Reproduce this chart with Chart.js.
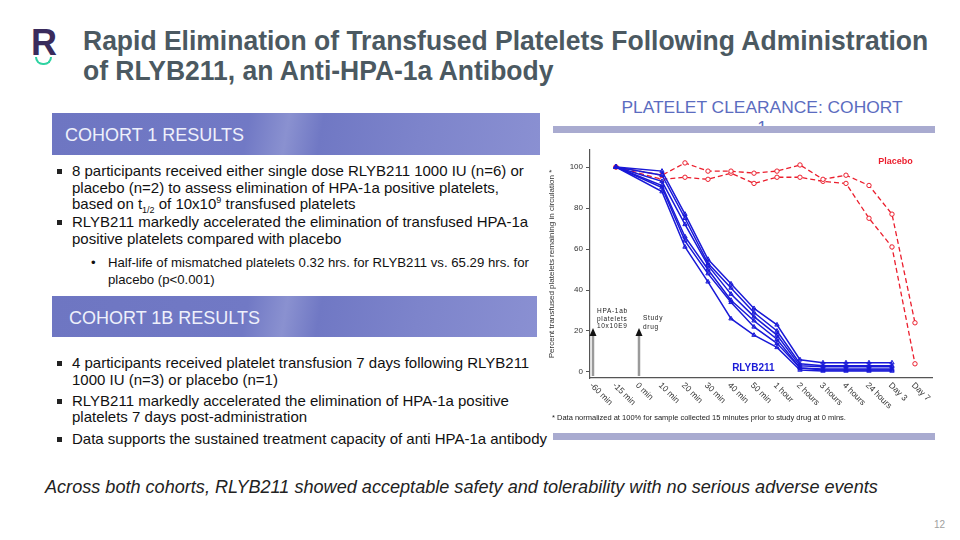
<!DOCTYPE html>
<html>
<head>
<meta charset="utf-8">
<script src="https://cdn.jsdelivr.net/npm/chart.js@4"></script>
<style>
  html, body { margin: 0; padding: 0; background: #fff; }
  #slide { position: relative; width: 960px; height: 540px; overflow: hidden; font-family: "Liberation Sans", Arial, sans-serif; }
  .abs { position: absolute; }
  #logoR { left: 31px; top: 22px; font-size: 36px; font-weight: bold; color: #3a2b5c; }
  #logoSmile { left: 35px; top: 57px; width: 13px; height: 6px; border: 2.5px solid #2fd3a2; border-top: none; border-radius: 0 0 9px 9px; }
  #title { left: 83px; top: 26px; font-weight: bold; font-size: 27px; line-height: 30px; color: #4b5961; white-space: nowrap; transform: scaleX(0.981); transform-origin: left top; }
  .band { background: linear-gradient(100deg, #6e76c2 0%, #7179c5 40%, #8a91d0 48%, #7078c4 55%, #7d84cb 75%, #8a90d2 100%); color: #eef0fb; font-size: 18px; }
  ul { margin: 0; padding: 0; list-style: none; }
  .bl { position: relative; padding-left: 15px; font-size: 15px; line-height: 16.5px; color: #111; }
  .bl::before { content: ""; position: absolute; left: 0; top: 6px; width: 5px; height: 5px; background: #222; }
  .sub { position: relative; padding-left: 51px; font-size: 13.2px; line-height: 17px; color: #111; margin-top: 7px; }
  .sub::before { content: "•"; position: absolute; left: 34px; top: 0; }
  sub, sup { line-height: 0; font-size: 9px; }
  .bar { background: #a9abd0; }
  #chartBox { left: 545px; top: 138px; width: 395px; height: 290px; }
</style>
</head>
<body>
<div id="slide">
  <div class="abs" id="logoR">R</div>
  <div class="abs" id="logoSmile"></div>
  <div class="abs" id="title">Rapid Elimination of Transfused Platelets Following Administration<br>of RLYB211, an Anti-HPA-1a Antibody</div>

  <div class="abs band" style="left:52px; top:113px; width:488px; height:42px;"><div style="position:absolute; left:13px; top:12px;">COHORT 1 RESULTS</div></div>
  <ul class="abs" style="left:57px; top:163px; width:484px;">
    <li class="bl">8 participants received either single dose RLYB211 1000 IU (n=6) or placebo (n=2) to assess elimination of HPA-1a positive platelets, based on t<sub>1/2</sub> of 10x10<sup>9</sup> transfused platelets</li>
    <li class="bl" style="margin-top:1.5px;">RLYB211 markedly accelerated the elimination of transfused HPA-1a positive platelets compared with placebo</li>
    <li class="sub">Half-life of mismatched platelets 0.32 hrs. for RLYB211 vs. 65.29 hrs. for placebo (p&lt;0.001)</li>
  </ul>

  <div class="abs band" style="left:52px; top:296px; width:485px; height:41px;"><div style="position:absolute; left:17px; top:12px;">COHORT 1B RESULTS</div></div>
  <ul class="abs" style="left:57px; top:355px; width:480px;">
    <li class="bl">4 participants received platelet transfusion 7 days following RLYB211 1000 IU (n=3) or placebo (n=1)</li>
    <li class="bl" style="margin-top:4.5px;">RLYB211 markedly accelerated the elimination of HPA-1a positive platelets 7 days post-administration</li>
    <li class="bl" style="margin-top:5.5px; white-space:nowrap;">Data supports the sustained treatment capacity of anti HPA-1a antibody</li>
  </ul>

  <div class="abs" style="left:45px; top:477px; font-size:18.1px; font-style:italic; color:#222; white-space:nowrap;">Across both cohorts, RLYB211 showed acceptable safety and tolerability with no serious adverse events</div>

  <div class="abs" style="left:560px; top:97px; width:404px; text-align:center; font-size:17.4px; line-height:20px; color:#5b6cc0;">PLATELET CLEARANCE: COHORT<br>1</div>
  <div class="abs bar" style="left:553px; top:126px; width:382px; height:7px;"></div>
  <div class="abs bar" style="left:553px; top:433px; width:382px; height:7px;"></div>

  <div class="abs" id="chartBox"><canvas id="chart"></canvas></div>
  <div class="abs" style="left:552px; top:413px; font-size:7.5px; color:#222; white-space:nowrap;">* Data normalized at 100% for sample collected 15 minutes prior to study drug at 0 mins.</div>

  <div class="abs" style="left:934px; top:519px; font-size:10px; color:#a0a0a0;">12</div>
</div>

<script>
// time points (category axis)
const categories = ['-60 min', '-15 min', '0 min', '10 min', '20 min', '30 min', '40 min', '50 min',
    '1 hour', '2 hours', '3 hours', '4 hours', '24 hours', 'Day 3', 'Day 7'];

// RLYB211 subjects, % remaining
const rly1 = [null, 100, null, 98, 77, 55, 43, 31, 23, 6, 4.5, 4.5, 4.5, 4.5, null];
const rly2 = [null, 100, null, 96, 75, 53, 41, 29, 20, 4, 3, 3, 3, 3, null];
const rly3 = [null, 100, null, 93, 72, 52, 38, 27, 18, 3, 2.5, 2.5, 2.5, 2.5, null];
const rly4 = [null, 100, null, 91, 66, 50, 35, 25, 16, 2, 1.5, 1.5, 1.5, 1.5, null];
const rly5 = [null, 100, null, 90, 64, 48, 34, 22, 14, 2, 1, 1, 1, 1, null];
const rly6 = [null, 100, null, 88, 61, 44, 26, 18, 12, 1, 0.5, 0.5, 0.5, 0.5, null];

// placebo subjects
const plc1 = [null, 100, null, 96, 102, 98, 98, 97, 98, 101, 94, 96, 91, 77, 24];
const plc2 = [null, 100, null, 94, 95, 94, 97, 92, 95, 95, 93, 92, 75, 61, 4];

const yTicks = [0, 20, 40, 60, 80, 100];

// dosing arrows
const arrowAt = [0, 2];
const arrowTop = 20;
const arrowText = [['HPA-1ab', 'platelets', '10x10E9'], ['Study', 'drug']];

const blue = 'rgb(25,25,215)';
const red = 'rgb(235,30,45)';

const toPoints = arr => arr.map((v, i) => ({ x: i, y: v }));

const rlySet = (arr) => ({
    data: toPoints(arr), borderColor: blue, backgroundColor: 'rgba(25,25,215,0.35)',
    borderWidth: 1.5, pointStyle: 'triangle', pointRadius: 2.5, pointBorderWidth: 1,
    spanGaps: true, tension: 0
});
const plcSet = (arr) => ({
    data: toPoints(arr), borderColor: red, backgroundColor: '#fff',
    borderWidth: 1.3, borderDash: [5, 3], pointStyle: 'circle', pointRadius: 2.2, pointBorderWidth: 1,
    spanGaps: true, tension: 0
});

const overlay = {
    id: 'overlay',
    afterDraw(chart) {
        const { ctx, scales: { x, y }, chartArea } = chart;
        ctx.save();
        // x tick labels, rotated down to the right
        ctx.font = '8.5px "Liberation Sans", Arial';
        ctx.fillStyle = '#333';
        ctx.textAlign = 'left';
        ctx.textBaseline = 'middle';
        categories.forEach((c, i) => {
            ctx.save();
            ctx.translate(x.getPixelForValue(i) - 2, chartArea.bottom + 6);
            ctx.rotate(Math.PI / 4);
            ctx.fillText(c, 0, 0);
            ctx.restore();
        });
        ctx.textBaseline = 'alphabetic';
        // arrows
        arrowAt.forEach((a, k) => {
            const px = x.getPixelForValue(a);
            const y0 = chartArea.bottom - 2;
            const y1 = y.getPixelForValue(arrowTop);
            ctx.strokeStyle = '#9a9a9a';
            ctx.lineWidth = 2.5;
            ctx.beginPath(); ctx.moveTo(px, y0); ctx.lineTo(px, y1 + 4); ctx.stroke();
            ctx.fillStyle = '#111';
            ctx.beginPath(); ctx.moveTo(px, y1 - 3); ctx.lineTo(px - 3.5, y1 + 5); ctx.lineTo(px + 3.5, y1 + 5); ctx.closePath(); ctx.fill();
            ctx.font = '6.5px "Liberation Sans", Arial';
            ctx.letterSpacing = '0.7px';
            ctx.fillStyle = '#222';
            const lines = arrowText[k];
            const startY = k === 0 ? y1 - 18 : y1 - 11;
            const step = k === 0 ? 7.6 : 9;
            lines.forEach((t, j) => ctx.fillText(t, px + 4, startY + j * step));
            ctx.letterSpacing = '0px';
        });
        // subtitle
        ctx.font = 'bold 9.8px "Liberation Sans", Arial';
        ctx.fillStyle = '#111';
        ctx.textAlign = 'center';
        ctx.fillText('Each line represents a unique subject', 754, chartArea.top - 1);
        // series labels
        ctx.font = 'bold 9px "Liberation Sans", Arial';
        ctx.fillStyle = red;
        ctx.textAlign = 'left';
        ctx.fillText('Placebo', x.getPixelForValue(12.4), y.getPixelForValue(101.5));
        ctx.font = 'bold 10px "Liberation Sans", Arial';
        ctx.fillStyle = blue;
        ctx.fillText('RLYB211', x.getPixelForValue(6.05), y.getPixelForValue(0.5));
        ctx.restore();
    }
};

new Chart(document.getElementById('chart'), {
    type: 'line',
    data: {
        datasets: [rlySet(rly1), rlySet(rly2), rlySet(rly3), rlySet(rly4), rlySet(rly5), rlySet(rly6),
            plcSet(plc1), plcSet(plc2)]
    },
    options: {
        responsive: true,
        maintainAspectRatio: false,
        animation: false,
        layout: { padding: { left: 0, right: 8, top: 12, bottom: 12 } },
        plugins: { legend: { display: false }, tooltip: { enabled: false } },
        scales: {
            x: {
                type: 'linear', min: -0.13, max: 14.74,
                afterFit: s => { s.height = 38; },
                afterBuildTicks: s => { s.ticks = categories.map((c, i) => ({ value: i })); },
                ticks: { display: false },
                grid: { drawOnChartArea: false, drawTicks: false },
                border: { color: '#555', width: 1.2 }
            },
            y: {
                min: -2.93, max: 108.3,
                afterFit: s => { s.width = 45; },
                afterBuildTicks: s => { s.ticks = yTicks.map(v => ({ value: v })); },
                ticks: { padding: 3, font: { size: 8, family: '"Liberation Sans", Arial' }, color: '#333' },
                grid: { drawOnChartArea: false, drawTicks: true, tickLength: 4, color: '#555' },
                border: { color: '#555', width: 1.2 },
                title: {
                    display: true, text: 'Percent transfused platelets remaining in circulation *',
                    font: { size: 8, family: '"Liberation Sans", Arial' }, color: '#333', padding: 2
                }
            }
        }
    },
    plugins: [overlay]
});
</script>
</body>
</html>
